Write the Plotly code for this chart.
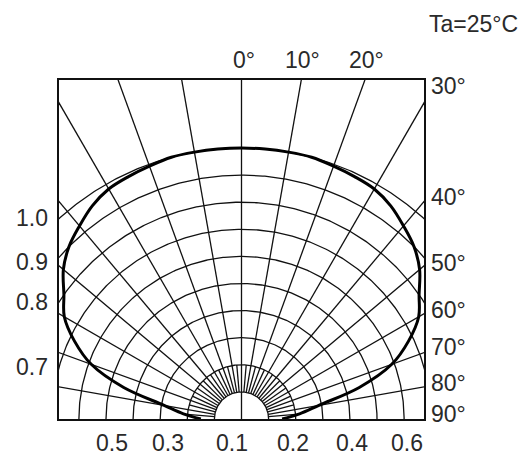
import numpy as np
import plotly.graph_objects as go

# ---------------- data ----------------
ANGLES_DEG = [0, 5, 10, 15, 20, 25, 30, 35, 40, 45, 50, 55, 60, 65, 70, 75, 80, 85, 90]
REL_INTENSITY = [1.00, 1.00, 1.00, 1.00, 0.993, 0.987, 0.98, 0.96, 0.93, 0.90,
                 0.858, 0.80, 0.755, 0.68, 0.59, 0.45, 0.29, 0.215, 0.15]
RING_VALUES = [0.1, 0.2, 0.3, 0.4, 0.5, 0.6, 0.7, 0.8, 0.9, 1.0]
SPOKE_ANGLES = [-80, -70, -60, -50, -40, -30, -20, -10, 10, 20, 30, 40, 50, 60, 70, 80]
FINE_SPOKE_ANGLES = [-85, -75, -65, -55, -45, -35, -25, -15, -5, 5, 15, 25, 35, 45, 55, 65, 75, 85]
LEFT_LABELS = ["1.0", "0.9", "0.8", "0.7"]
BOTTOM_LABELS = ["0.5", "0.3", "0.1", "0.2", "0.4", "0.6"]
TOP_LABELS = ["0°", "10°", "20°"]
RIGHT_LABELS = ["30°", "40°", "50°", "60°", "70°", "80°", "90°"]
TITLE_TEXT = "Ta=25°C"

# ---------------- geometry / layout ----------------
W, H = 529, 456
ML, MR, MT, MB = 59, 105, 80, 37
PW, PH = W - ML - MR, H - MT - MB
UNIT = 271.0                     # pixels per 1.0 of relative intensity
XHALF = (PW / 2) / UNIT
YTOP = PH / UNIT

def px_to_paper(px, py):
    return (px - ML) / PW, (H - MB - py) / PH

# label pixel positions (layout only)
LEFT_POS = [(50, 218), (50, 262), (50, 302), (50, 367)]
BOTTOM_POS = [(112, 443), (168, 443), (232, 443), (293, 443), (352, 443), (407, 443)]
TOP_POS = [(244, 60), (302, 60), (366, 60)]
RIGHT_POS = [(429, 86), (429, 197), (429, 263), (429, 310), (429, 347), (429, 383), (429, 414)]
TITLE_POS = (473, 24)

FONT = dict(family="Liberation Sans, Arial, sans-serif", size=23, color="#2a2a2a")
GRID_COLOR = "#111111"

fig = go.Figure()

# grid: rings
gx, gy = [], []
phi = np.radians(np.linspace(-90, 90, 361))
for r in RING_VALUES:
    gx += list(r * np.sin(phi)) + [None]
    gy += list(r * np.cos(phi)) + [None]
# spokes every 10 degrees
for a in SPOKE_ANGLES:
    t = np.radians(a)
    gx += [0.1 * np.sin(t), 3 * np.sin(t), None]
    gy += [0.1 * np.cos(t), 3 * np.cos(t), None]
gx += [0, 0, None]
gy += [0, 3, None]
# fine spokes near the centre
for a in FINE_SPOKE_ANGLES:
    t = np.radians(a)
    gx += [0.1 * np.sin(t), 0.2 * np.sin(t), None]
    gy += [0.1 * np.cos(t), 0.2 * np.cos(t), None]

fig.add_trace(go.Scatter(x=gx, y=gy, mode="lines",
                         line=dict(color=GRID_COLOR, width=1.3),
                         hoverinfo="skip", showlegend=False))

# radiation pattern (symmetric)
ang = np.array([-a for a in ANGLES_DEG[::-1]] + ANGLES_DEG[1:], dtype=float)
rr = np.array(REL_INTENSITY[::-1] + REL_INTENSITY[1:], dtype=float)
th = np.radians(ang)
fig.add_trace(go.Scatter(x=rr * np.sin(th), y=rr * np.cos(th), mode="lines",
                         line=dict(color="#000000", width=3, shape="spline", smoothing=1.0),
                         hoverinfo="skip", showlegend=False))

annotations = []
def add_label(text, pos, xanchor):
    xp, yp = px_to_paper(*pos)
    annotations.append(dict(text=text, x=xp, y=yp, xref="paper", yref="paper",
                            xanchor=xanchor, yanchor="middle", showarrow=False,
                            font=FONT))

for t, p in zip(LEFT_LABELS, LEFT_POS):
    add_label(t, p, "right")
for t, p in zip(BOTTOM_LABELS, BOTTOM_POS):
    add_label(t, p, "center")
for t, p in zip(TOP_LABELS, TOP_POS):
    add_label(t, p, "center")
for t, p in zip(RIGHT_LABELS, RIGHT_POS):
    add_label(t, p, "left")
add_label(TITLE_TEXT, TITLE_POS, "center")

axis_common = dict(showgrid=False, zeroline=False, showticklabels=False, ticks="",
                   showline=True, mirror=True, linecolor="#111111", linewidth=2,
                   fixedrange=True)
fig.update_layout(
    width=W, height=H, autosize=False,
    margin=dict(l=ML, r=MR, t=MT, b=MB),
    paper_bgcolor="white", plot_bgcolor="white",
    xaxis=dict(range=[-XHALF, XHALF], **axis_common),
    yaxis=dict(range=[0, YTOP], **axis_common),
    annotations=annotations,
    showlegend=False,
)

fig.write_html("out.html", config={"displayModeBar": False},
               post_script="document.body.style.margin='0';document.body.style.padding='0';")
